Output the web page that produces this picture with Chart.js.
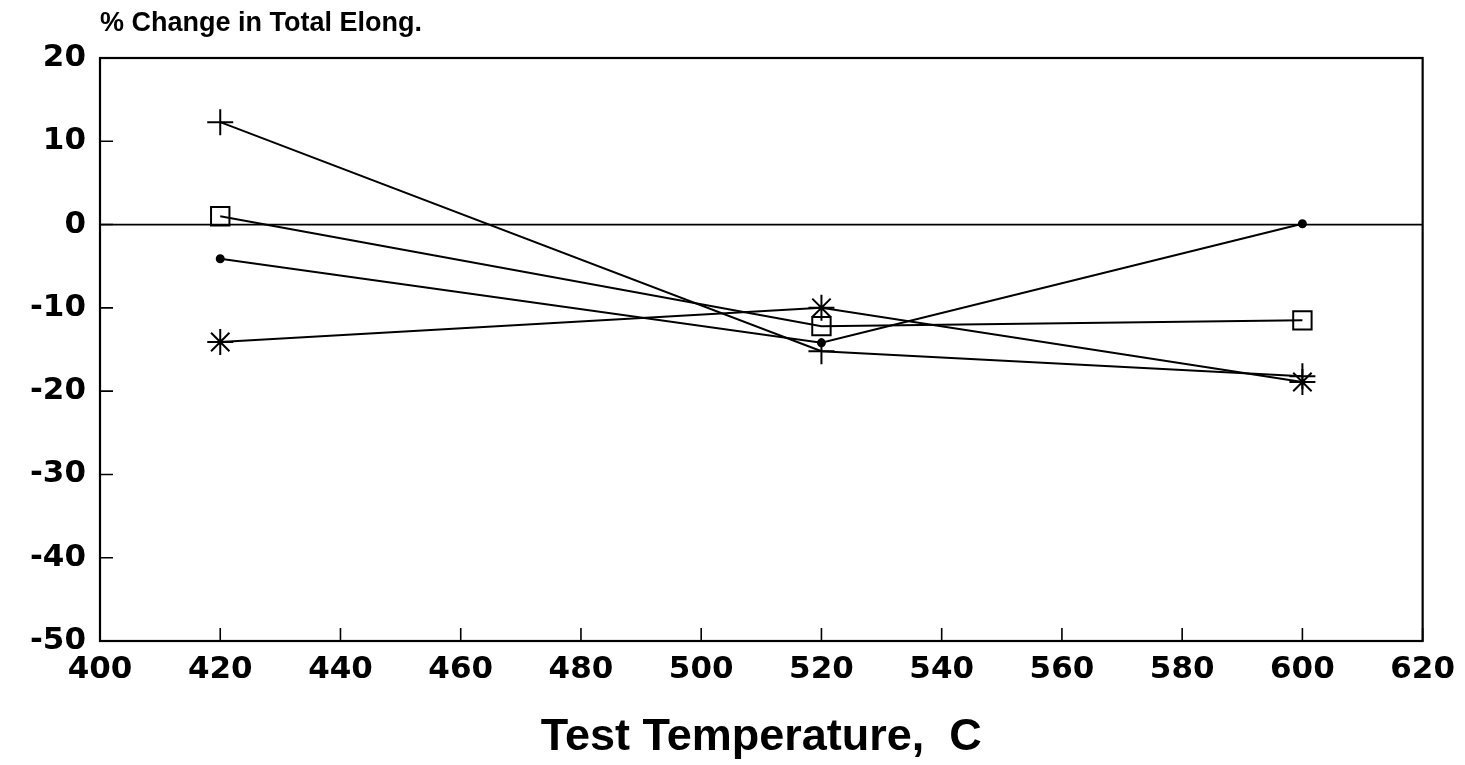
<!DOCTYPE html>
<html>
<head>
<meta charset="utf-8">
<script src="https://cdn.jsdelivr.net/npm/chart.js@4.4.1/dist/chart.umd.min.js"></script>
<style>
  html, body { margin: 0; padding: 0; background: #ffffff; }
  #wrap { width: 1465px; height: 765px; position: relative; }
</style>
</head>
<body>
<div id="wrap"><canvas id="c" width="1465" height="765"></canvas></div>
<script>
// ---- Data ----
const temperatures = [420, 520, 600];
const seriesPlus   = [12.3, -15.2, -18.2];
const seriesSquare = [1.0, -12.2, -11.5];
const seriesDot    = [-4.1, -14.2, 0.1];
const seriesStar   = [-14.1, -10.0, -18.9];

const xTickValues = [400, 420, 440, 460, 480, 500, 520, 540, 560, 580, 600, 620];
const yTickValues = [20, 10, 0, -10, -20, -30, -40, -50];

const yAxisTitle = '% Change in Total Elong.';
const xAxisTitle = 'Test Temperature,  C';

function toPoints(vals) {
  return temperatures.map((t, i) => ({ x: t, y: vals[i] }));
}

const boxAndTicks = {
  id: 'boxAndTicks',
  afterDraw(chart) {
    const { ctx, chartArea: a, scales } = chart;
    ctx.save();
    ctx.strokeStyle = '#000';
    // inward ticks
    ctx.lineWidth = 1.6;
    ctx.beginPath();
    yTickValues.forEach(v => {
      const y = scales.y.getPixelForValue(v);
      ctx.moveTo(a.left, y); ctx.lineTo(a.left + 13, y);
    });
    xTickValues.forEach(v => {
      const x = scales.x.getPixelForValue(v);
      ctx.moveTo(x, a.bottom); ctx.lineTo(x, a.bottom - 13);
    });
    ctx.stroke();
    // zero line
    const y0 = scales.y.getPixelForValue(0);
    ctx.lineWidth = 1.8;
    ctx.beginPath();
    ctx.moveTo(a.left, y0); ctx.lineTo(a.right, y0);
    ctx.stroke();
    // frame
    ctx.lineWidth = 2.2;
    ctx.strokeRect(a.left, a.top, a.right - a.left, a.bottom - a.top);
    // y axis title (top-left, horizontal)
    ctx.fillStyle = '#000';
    ctx.font = 'bold 27px "Liberation Sans", Arial, sans-serif';
    ctx.textAlign = 'left';
    ctx.textBaseline = 'middle';
    ctx.fillText(yAxisTitle, a.left, 24);
    ctx.restore();
  }
};

const common = {
  borderColor: '#000',
  borderWidth: 2,
  pointBorderColor: '#000',
  pointBorderWidth: 2,
  showLine: true,
  tension: 0,
  fill: false
};

new Chart(document.getElementById('c'), {
  type: 'scatter',
  data: {
    datasets: [
      Object.assign({}, common, { label: 'plus', data: toPoints(seriesPlus), pointStyle: 'cross', pointRadius: 13, backgroundColor: 'transparent' }),
      Object.assign({}, common, { label: 'square', data: toPoints(seriesSquare), pointStyle: 'rect', pointRadius: 13, backgroundColor: 'transparent' }),
      Object.assign({}, common, { label: 'dot', data: toPoints(seriesDot), pointStyle: 'circle', pointRadius: 3.5, backgroundColor: '#000' }),
      Object.assign({}, common, { label: 'star', data: toPoints(seriesStar), pointStyle: 'star', pointRadius: 13, backgroundColor: 'transparent' })
    ]
  },
  options: {
    responsive: false,
    animation: false,
    layout: { padding: { top: 58, right: 40, left: 0, bottom: 0 } },
    plugins: { legend: { display: false }, tooltip: { enabled: false }, title: { display: false } },
    scales: {
      x: {
        type: 'linear',
        min: 400, max: 620,
        afterBuildTicks: s => { s.ticks = xTickValues.map(v => ({ value: v })); },
        afterFit: s => { s.height = 124; },
        grid: { display: false, drawTicks: false },
        border: { display: false },
        ticks: {
          color: '#000',
          padding: 10,
          maxRotation: 0,
          font: { family: '"DejaVu Sans", sans-serif', weight: 'bold', size: 31 }
        },
        title: {
          display: true,
          text: xAxisTitle,
          color: '#000',
          padding: { top: 0, bottom: 0 },
          font: { family: '"Liberation Sans", Arial, sans-serif', weight: 'bold', size: 45 }
        }
      },
      y: {
        type: 'linear',
        min: -50, max: 20,
        afterBuildTicks: s => { s.ticks = yTickValues.map(v => ({ value: v })); },
        afterFit: s => { s.width = 100; },
        grid: { display: false, drawTicks: false },
        border: { display: false },
        ticks: {
          color: '#000',
          padding: 14,
          font: { family: '"DejaVu Sans", sans-serif', weight: 'bold', size: 31 }
        }
      }
    }
  },
  plugins: [boxAndTicks]
});
</script>
</body>
</html>
